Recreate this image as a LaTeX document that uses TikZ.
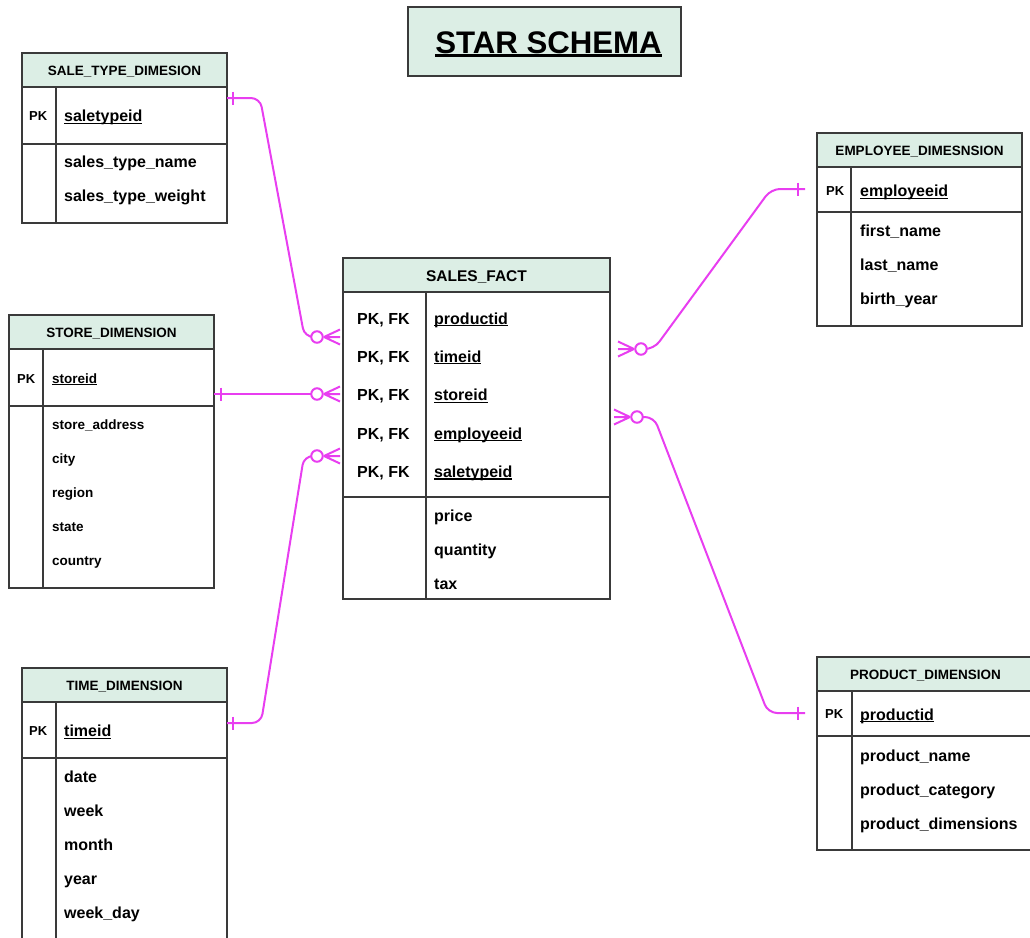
\documentclass[tikz,border=0pt]{standalone}
\usepackage{fontspec}
\setmainfont{Liberation Sans}
\usetikzlibrary{calc}
\definecolor{bord}{HTML}{3A3A3A}
\definecolor{hdrfill}{HTML}{DCEEE5}
\definecolor{conn}{HTML}{E83EF0}
\newsavebox{\myulbox}
\newcommand{\keyul}[1]{\sbox{\myulbox}{#1}\rlap{\rule[-2pt]{\wd\myulbox}{1.2pt}}\usebox{\myulbox}}
\newcommand{\titleul}[1]{\sbox{\myulbox}{#1}\rlap{\rule[-3.4pt]{\wd\myulbox}{2.3pt}}\usebox{\myulbox}}
\begin{document}
\begin{tikzpicture}[x=1pt,y=-1pt,
  tb/.style={draw=bord,line width=1.3pt},
  hdr/.style={draw=bord,fill=hdrfill,line width=1.3pt},
  hd/.style={font=\fontsize{13.5}{16}\selectfont\bfseries,anchor=base,inner sep=0pt},
  hdbig/.style={font=\fontsize{15.5}{18}\selectfont\bfseries,anchor=base,inner sep=0pt},
  fld/.style={font=\fontsize{16}{19}\selectfont\bfseries,anchor=base west,inner sep=0pt},
  fldsm/.style={font=\fontsize{13.5}{16}\selectfont\bfseries,anchor=base west,inner sep=0pt},
  pk/.style={font=\fontsize{13}{16}\selectfont\bfseries,anchor=base west,inner sep=0pt},
  rel/.style={draw=conn,line width=2pt,rounded corners=9pt},
  relmark/.style={draw=conn,line width=2pt},
  ocircle/.style={circle,draw=conn,line width=2pt,fill=white,minimum size=11.5pt,inner sep=0pt},
  crowfoot/.pic={\draw[relmark] (0,0) -- (16,-7.5) (0,0) -- (16,0) (0,0) -- (16,7.5);},
  onebar/.pic={\draw[relmark] (0,-6.5) -- (0,6.5);}
]
\useasboundingbox (0,0) rectangle (1030,937);

% title
\node[hdr,minimum width=273pt,minimum height=69pt,inner sep=0pt] (title) at (544.5,41.5) {};
\node[font=\fontsize{31.2}{36}\selectfont\bfseries,anchor=base,inner sep=0pt] (titletext) at (548.5,53.3) {\titleul{STAR SCHEMA}};

% SALE_TYPE_DIMESION
\draw[hdr] (22,53) rectangle (227,87);
\draw[tb] (22,87) rectangle (227,223);
\draw[tb] (22,144) -- (227,144) (56,87) -- (56,223);
\node[hd] (stH) at (124.5,75.7) {SALE\_TYPE\_DIMESION};
\node[pk] (stPK) at (29,120.7) {PK};
\node[fld] (stK) at (64,121.7) {\keyul{saletypeid}};
\node[fld] (st1) at (64,167.7) {sales\_type\_name};
\node[fld] (st2) at (64,201.7) {sales\_type\_weight};

% STORE_DIMENSION
\draw[hdr] (9,315) rectangle (214,349);
\draw[tb] (9,349) rectangle (214,588);
\draw[tb] (9,406) -- (214,406) (43,349) -- (43,588);
\node[hd] (sdH) at (111.5,337) {STORE\_DIMENSION};
\node[pk] (sdPK) at (17,383) {PK};
\node[fldsm] (sdK) at (52,383) {\keyul{storeid}};
\node[fldsm] (sd1) at (52,429) {store\_address};
\node[fldsm] (sd2) at (52,463) {city};
\node[fldsm] (sd3) at (52,497) {region};
\node[fldsm] (sd4) at (52,531) {state};
\node[fldsm] (sd5) at (52,565) {country};

% TIME_DIMENSION
\draw[hdr] (22,668) rectangle (227,702);
\draw[tb] (22,702) rectangle (227,960);
\draw[tb] (22,758) -- (227,758) (56,702) -- (56,960);
\node[hd] (tdH) at (124.5,690) {TIME\_DIMENSION};
\node[pk] (tdPK) at (29,735.7) {PK};
\node[fld] (tdK) at (64,736.7) {\keyul{timeid}};
\node[fld] (td1) at (64,782.7) {date};
\node[fld] (td2) at (64,816.7) {week};
\node[fld] (td3) at (64,850.7) {month};
\node[fld] (td4) at (64,884.7) {year};
\node[fld] (td5) at (64,918.7) {week\_day};

% EMPLOYEE_DIMESNSION
\draw[hdr] (817,133) rectangle (1022,167);
\draw[tb] (817,167) rectangle (1022,326);
\draw[tb] (817,212) -- (1022,212) (851,167) -- (851,326);
\node[hd] (edH) at (919.5,155) {EMPLOYEE\_DIMESNSION};
\node[pk] (edPK) at (826,195.5) {PK};
\node[fld] (edK) at (860,196.7) {\keyul{employeeid}};
\node[fld] (ed1) at (860,236) {first\_name};
\node[fld] (ed2) at (860,270.5) {last\_name};
\node[fld] (ed3) at (860,304.7) {birth\_year};

% PRODUCT_DIMENSION
\draw[hdr] (817,657) rectangle (1040,691);
\draw[tb] (817,691) rectangle (1040,850);
\draw[tb] (817,736) -- (1040,736) (852,691) -- (852,850);
\node[hd] (pdH) at (925.5,679) {PRODUCT\_DIMENSION};
\node[pk] (pdPK) at (825,718.7) {PK};
\node[fld] (pdK) at (860,720) {\keyul{productid}};
\node[fld] (pd1) at (860,761) {product\_name};
\node[fld] (pd2) at (860,795) {product\_category};
\node[fld] (pd3) at (860,829) {product\_dimensions};

% SALES_FACT
\draw[hdr] (343,258) rectangle (610,292);
\draw[tb] (343,292) rectangle (610,599);
\draw[tb] (343,497) -- (610,497) (426,292) -- (426,599);
\node[hdbig] (fH) at (476.5,281.7) {SALES\_FACT};
\node[fld] (fk1) at (357,324) {PK, FK};
\node[fld] (fk2) at (357,362.4) {PK, FK};
\node[fld] (fk3) at (357,400.8) {PK, FK};
\node[fld] (fk4) at (357,439.2) {PK, FK};
\node[fld] (fk5) at (357,477.6) {PK, FK};
\node[fld] (f1) at (434,324) {\keyul{productid}};
\node[fld] (f2) at (434,362.4) {\keyul{timeid}};
\node[fld] (f3) at (434,400.8) {\keyul{storeid}};
\node[fld] (f4) at (434,439.2) {\keyul{employeeid}};
\node[fld] (f5) at (434,477.6) {\keyul{saletypeid}};
\node[fld] (f6) at (434,521) {price};
\node[fld] (f7) at (434,555) {quantity};
\node[fld] (f8) at (434,589) {tax};

% connector end points
\coordinate (stR) at (227,98);
\coordinate (sdR) at (214,394);
\coordinate (tdR) at (227,723);
\coordinate (edL) at (805,189);
\coordinate (pdL) at (805,713);
\coordinate (c1) at (317,337);
\coordinate (c2) at (317,394);
\coordinate (c3) at (317,456);
\coordinate (c4) at (641,349);
\coordinate (c5) at (637,417);

% connectors
\draw[rel] (stR) -- (260,98) -- (304.5,337) -- (c1);
\draw[rel] (sdR) -- (c2);
\draw[rel] (tdR) -- (261,723) -- (304,456) -- (c3);
\draw[rel] (c4) -- (654,349) -- (771,189) -- (edL);
\draw[rel] (c5) -- (654,417) -- (768,713) -- (pdL);

% one marks
\pic at (233,98) {onebar};
\pic at (221,394) {onebar};
\pic at (233,723) {onebar};
\pic at (798,189) {onebar};
\pic at (798,713) {onebar};

% zero-or-many marks
\node[ocircle] (o1) at (c1) {};
\node[ocircle] (o2) at (c2) {};
\node[ocircle] (o3) at (c3) {};
\node[ocircle] (o4) at (c4) {};
\node[ocircle] (o5) at (c5) {};
\pic at ($(c1)+(7,0)$) {crowfoot};
\pic at ($(c2)+(7,0)$) {crowfoot};
\pic at ($(c3)+(7,0)$) {crowfoot};
\pic[xscale=-1] at ($(c4)+(-7,0)$) {crowfoot};
\pic[xscale=-1] at ($(c5)+(-7,0)$) {crowfoot};
\end{tikzpicture}
\end{document}
